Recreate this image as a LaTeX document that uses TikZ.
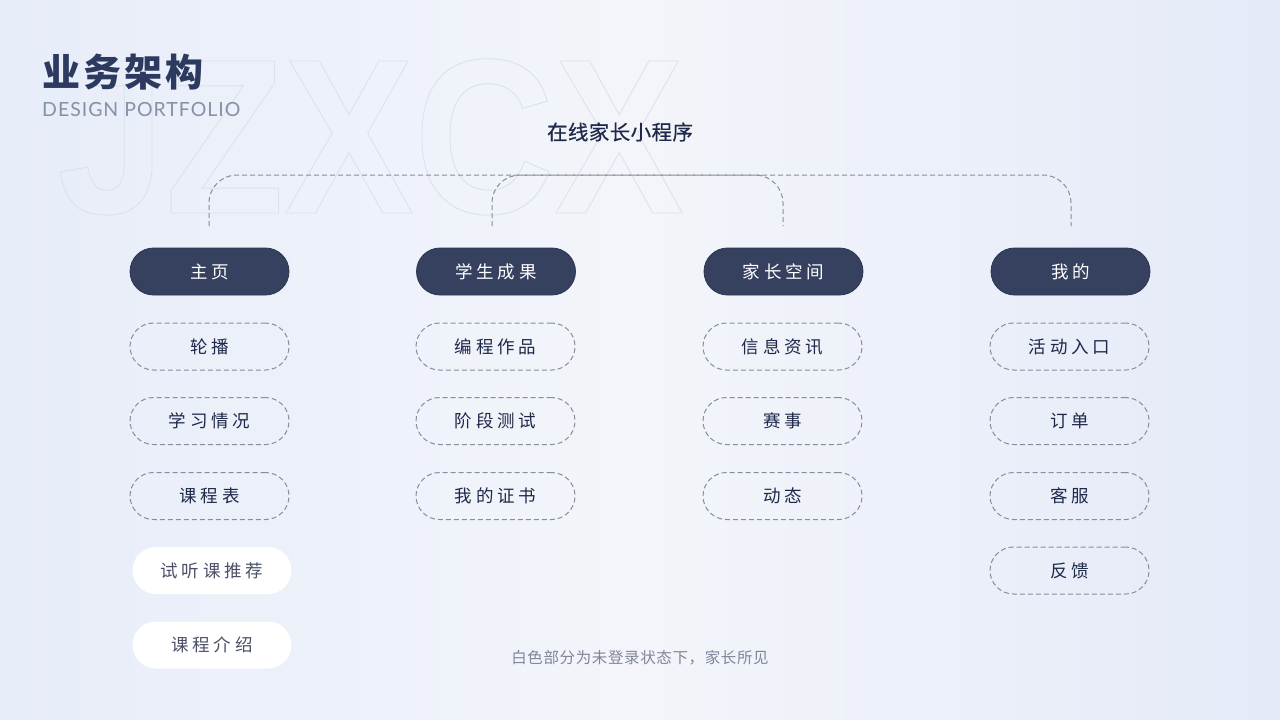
\documentclass[tikz,border=0pt]{standalone}
\usepackage{fontspec}
\usepackage{graphicx}
\setmainfont{Noto Sans CJK SC}
\newfontfamily\cjk{Noto Sans CJK SC}
\newfontfamily\cjkfoot[LetterSpace=4]{Noto Sans CJK SC}
\newfontfamily\cjkmed[FakeBold=0.5,LetterSpace=2]{Noto Sans CJK SC}
\newfontfamily\cjksp[LetterSpace=22]{Noto Sans CJK SC}
\newfontfamily\cjktitle[LetterSpace=8]{Noto Sans CJK SC}
\newfontfamily\latinsf[LetterSpace=5]{Lato}
\newfontfamily\wmfont{Liberation Sans}
\definecolor{navy}{HTML}{36405F}
\definecolor{titlec}{HTML}{2D3A5F}
\definecolor{txt}{HTML}{1E2849}
\definecolor{dashc}{HTML}{878D9C}
\definecolor{wtxt}{HTML}{4A5066}
\definecolor{footc}{HTML}{7F8699}
\definecolor{subc}{HTML}{8690A6}
\definecolor{bgl}{HTML}{E7EDF9}
\definecolor{bgm}{HTML}{F3F5FA}
\definecolor{bgr}{HTML}{E4EAF8}
\tikzset{
  pill/.style={rounded corners=23.5pt, minimum width=159pt, minimum height=47pt, inner sep=0pt,
    font=\cjksp\fontsize{17.5}{20}\selectfont},
  darkpill/.style={pill, fill=navy, draw=navy!85!black, line width=0.8pt, text=white},
  dashpill/.style={pill, draw=dashc, line width=1pt, dash pattern=on 5pt off 3pt, text=txt},
  whitepill/.style={pill, fill=white, text=wtxt},
  conn/.style={draw=dashc, line width=1pt, dash pattern=on 5pt off 3pt, rounded corners=28pt},
}
\begin{document}
\begin{tikzpicture}[x=1pt,y=-1pt]
\useasboundingbox (0,0) rectangle (1280,720);
\shade[left color=bgl, right color=bgr, middle color=bgm] (0,0) rectangle (1280,720);
% watermark
\node[anchor=base west, inner sep=0pt] (wm) at (57,213)
  {\scalebox{0.88}[1]{\special{pdf:literal direct 1 Tr 0.9 w 0.86 0.88 0.92 RG}\wmfont\bfseries\fontsize{221}{221}\selectfont JZXCX\special{pdf:literal direct 0 Tr 0 0 0 RG}}};
% titles
\node[anchor=west, inner sep=0pt, text=titlec, font=\cjktitle\bfseries\fontsize{38}{40}\selectfont] (title) at (42,72) {业务架构};
\node[anchor=west, inner sep=0pt, text=subc, font=\latinsf\fontsize{19.5}{22}\selectfont] (sub) at (42,110) {DESIGN PORTFOLIO};
\node[inner sep=0pt, text=txt, font=\cjkmed\fontsize{20.5}{24}\selectfont] (app) at (620,132) {在线家长小程序};
\node[inner sep=0pt, text=footc, font=\cjkfoot\fontsize{15.5}{18}\selectfont] (foot) at (640,658) {白色部分为未登录状态下，家长所见};
% connectors
\coordinate (top) at (640,175);
\coordinate (c1) at (209,226);
\coordinate (c2) at (492,226);
\coordinate (c3) at (783,226);
\coordinate (c4) at (1071,226);
\draw[conn] (c1) -- (c1|-top) -- (c4|-top) -- (c4);
\draw[conn] (c2) -- (c2|-top) -- (c3|-top) -- (c3);
% column 1
\node[darkpill] (a0) at (209.5,271.5) {主页};
\node[dashpill] (a1) at (209.5,346.5) {轮播};
\node[dashpill] (a2) at (209.5,421) {学习情况};
\node[dashpill] (a3) at (209.5,496) {课程表};
\node[whitepill] (a4) at (212,570.5) {试听课推荐};
\node[whitepill] (a5) at (212,645) {课程介绍};
% column 2
\node[darkpill] (b0) at (496,271.5) {学生成果};
\node[dashpill] (b1) at (495.5,346.5) {编程作品};
\node[dashpill] (b2) at (495.5,421) {阶段测试};
\node[dashpill] (b3) at (495.5,496) {我的证书};
% column 3
\node[darkpill] (c0) at (783.5,271.5) {家长空间};
\node[dashpill] (d1) at (782.5,346.5) {信息资讯};
\node[dashpill] (d2) at (782.5,421) {赛事};
\node[dashpill] (d3) at (782.5,496) {动态};
% column 4
\node[darkpill] (e0) at (1070.5,271.5) {我的};
\node[dashpill] (e1) at (1069.5,346.5) {活动入口};
\node[dashpill] (e2) at (1069.5,421) {订单};
\node[dashpill] (e3) at (1069.5,496) {客服};
\node[dashpill] (e4) at (1069.5,570.5) {反馈};
\end{tikzpicture}
\end{document}
